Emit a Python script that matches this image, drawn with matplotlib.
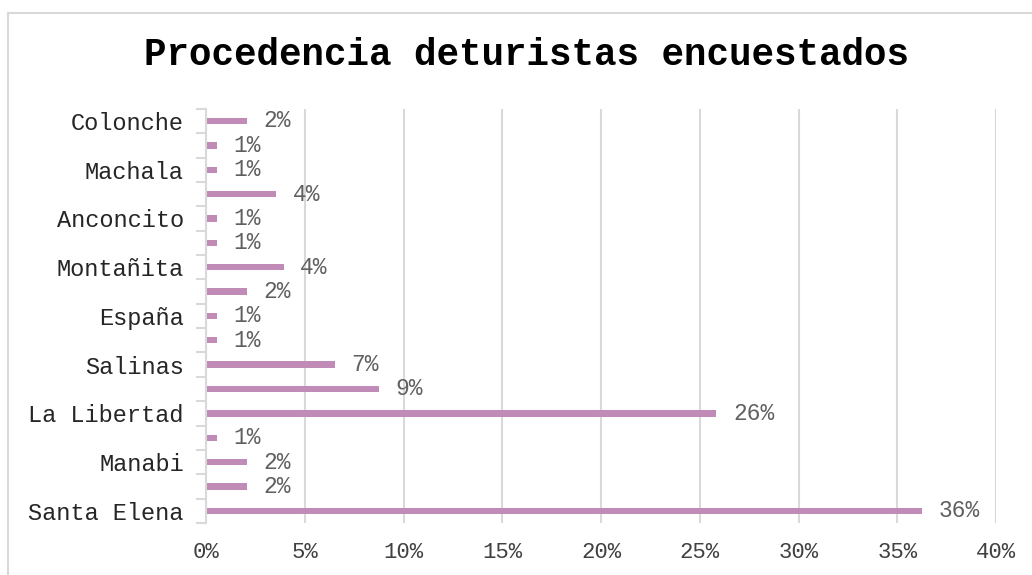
import matplotlib
matplotlib.use("Agg")
import matplotlib.pyplot as plt
from matplotlib.lines import Line2D
import numpy as np

# Data (top to bottom as shown)
categories = ["Colonche", "", "Machala", "", "Anconcito", "", "Montañita", "",
              "España", "", "Salinas", "", "La Libertad", "", "Manabi", "", "Santa Elena"]
values = [2.07, 0.56, 0.56, 3.54, 0.56, 0.56, 3.93, 2.07,
          0.56, 0.56, 6.52, 8.75, 25.84, 0.56, 2.07, 2.07, 36.25]
value_labels = ["2%", "1%", "1%", "4%", "1%", "1%", "4%", "2%",
                "1%", "1%", "7%", "9%", "26%", "1%", "2%", "2%", "36%"]
xticks = [0, 5, 10, 15, 20, 25, 30, 35, 40]
xtick_labels = ["0%", "5%", "10%", "15%", "20%", "25%", "30%", "35%", "40%"]
title = "Procedencia deturistas encuestados"

FONT = "Liberation Mono"
BAR = "#C08BB6"
GRID = "#D9D9D9"

fig = plt.figure(figsize=(10.32, 5.75), dpi=100)
W, H = 1032, 575

# outer chart border
fig.add_artist(Line2D([8 / W, 1.0], [1 - 13 / H, 1 - 13 / H], color=GRID, lw=1.5,
                      transform=fig.transFigure))
fig.add_artist(Line2D([8 / W, 8 / W], [0, 1 - 13 / H], color=GRID, lw=1.5,
                      transform=fig.transFigure))

left, right = 206 / W, 996 / W
top_px, bot_px = 108.8, 523
ax = fig.add_axes([left, 1 - bot_px / H, right - left, (bot_px - top_px) / H])

y = np.arange(len(categories))
ax.barh(y, values, height=0.26, color=BAR, zorder=3)
ax.set_ylim(len(categories) - 0.5, -0.5)
ax.set_xlim(0, 40)

for yi, v, lab in zip(y, values, value_labels):
    ax.annotate(lab, (v, yi), xytext=(12, 0), textcoords="offset points",
                va="center", ha="left", fontsize=16.5, family=FONT, color="#606060")

ax.set_yticks(y)
ax.set_yticklabels(categories, fontsize=17, family=FONT, color="#262626")
ax.tick_params(axis="y", which="major", length=0, pad=16)
ax.set_yticks(np.arange(-0.5, len(categories), 1.0), minor=True)
ax.tick_params(axis="y", which="minor", length=7, color=GRID, width=1.5)

ax.set_xticks(xticks)
ax.set_xticklabels(xtick_labels, fontsize=16, family=FONT, color="#404040")
ax.tick_params(axis="x", length=0, pad=14)
ax.xaxis.grid(True, color=GRID, lw=1.5, zorder=0)

for s in ["top", "right", "bottom"]:
    ax.spines[s].set_visible(False)
ax.spines["left"].set_color(GRID)
ax.spines["left"].set_linewidth(1.5)
ax.spines["left"].set_zorder(4)

fig.text(527 / W, 1 - 55 / H, title, ha="center", va="center",
         fontsize=27, fontweight="bold", family=FONT, color="#000000")

fig.savefig("out.png", dpi=100, facecolor="white")
